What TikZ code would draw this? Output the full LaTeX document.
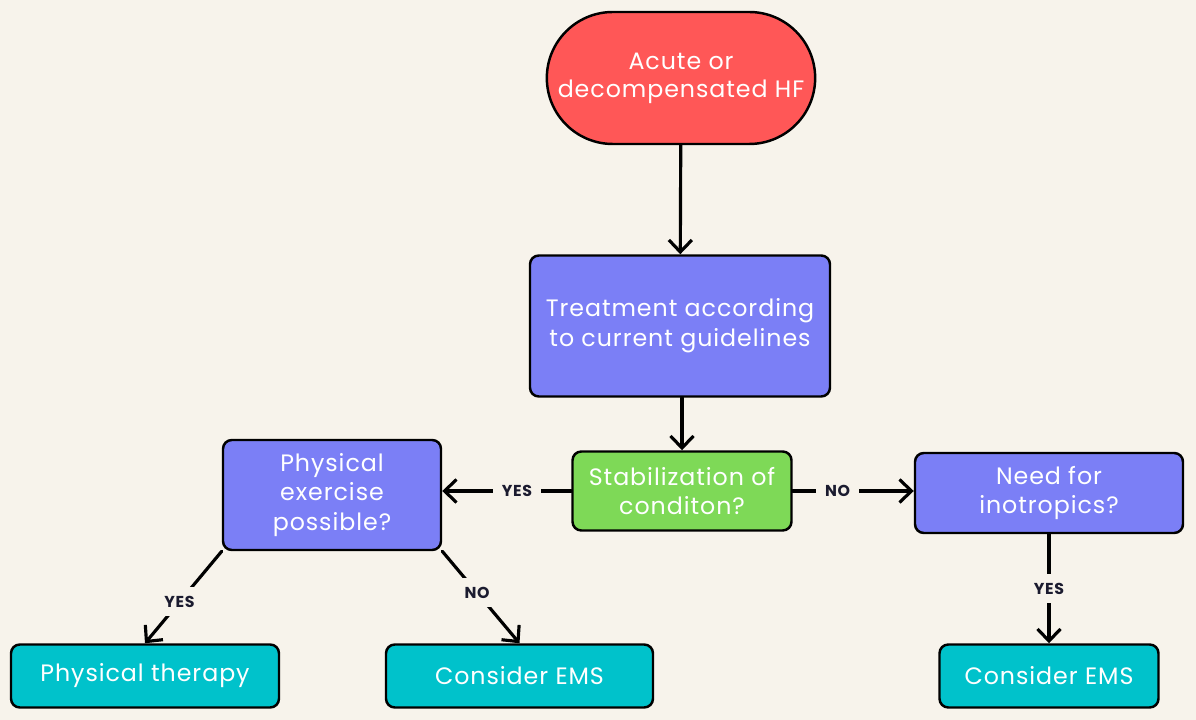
\documentclass[tikz,border=0pt]{standalone}
\usepackage{fontspec}
\setmainfont{Poppins}[LetterSpace=4]
\usepackage{tikz}
\usetikzlibrary{arrows.meta,shapes.misc}
\definecolor{bg}{HTML}{F7F3EB}
\definecolor{startred}{HTML}{FF5757}
\definecolor{stepblue}{HTML}{7B7FF6}
\definecolor{askgreen}{HTML}{7ED957}
\definecolor{endteal}{HTML}{00C2CB}
\definecolor{labelink}{HTML}{1B1B2F}
\tikzset{
  every picture/.style={line join=round, line cap=round, >={Straight Barb[length=2.4mm,width=4.6mm]}},
  box/.style={draw=black, line width=1.4pt, rounded corners=5pt, text=white, align=center,
    font=\fontsize{13.5}{17}\selectfont, inner sep=0pt},
  link/.style={->, line width=1.8pt},
  answer/.style={fill=bg, text=labelink, font=\fontsize{9}{10}\selectfont\bfseries, inner sep=5pt},
}

\begin{document}
\begin{tikzpicture}
\fill[bg](0,0) rectangle (23.92,14.40);
\useasboundingbox (0,0) rectangle (23.92,14.40);
\node[draw=black,line width=1.4pt,fill=startred,rounded rectangle,minimum width=5.36cm,minimum height=2.64cm,text=white,align=center,font=\fontsize{13.5}{16}\selectfont] (acute) at (13.620,12.840) {Acute or\\decompensated HF};
\node[box,fill=stepblue,minimum width=6.00cm,minimum height=2.82cm] (treat) at (13.600,7.880) {Treatment according\\to current guidelines};
\node[box,fill=askgreen,minimum width=4.38cm,minimum height=1.58cm] (stab) at (13.640,4.580) {Stabilization of\\conditon?};
\node[box,fill=stepblue,minimum width=4.36cm,minimum height=2.20cm] (exer) at (6.640,4.500) {Physical\\exercise\\possible?};
\node[box,fill=stepblue,minimum width=5.36cm,minimum height=1.60cm] (inotr) at (20.980,4.540) {Need for\\inotropics?};
\node[box,fill=endteal,minimum width=5.36cm,minimum height=1.26cm] (therapy) at (2.900,0.880) {Physical therapy};
\node[box,fill=endteal,minimum width=5.34cm,minimum height=1.26cm] (emsmid) at (10.390,0.880) {Consider EMS};
\node[box,fill=endteal,minimum width=4.38cm,minimum height=1.26cm] (emsright) at (20.980,0.880) {Consider EMS};
\draw[link](acute)--(treat);
\draw[link](treat.south -| stab.north)--(stab.north);
\draw[link](stab.west)--node[answer,pos=0.42]{YES}(stab.west -| exer.east);
\draw[link](stab.east)--node[answer,pos=0.37]{NO}(stab.east -| inotr.west);
\draw[link](exer.south west)--node[answer,pos=0.55]{YES}(therapy.north);
\draw[link](exer.south east)--node[answer,pos=0.45]{NO}(emsmid.north);
\draw[link](inotr.south -| emsright.north)--node[answer]{YES}(emsright.north);
\end{tikzpicture}
\end{document}
